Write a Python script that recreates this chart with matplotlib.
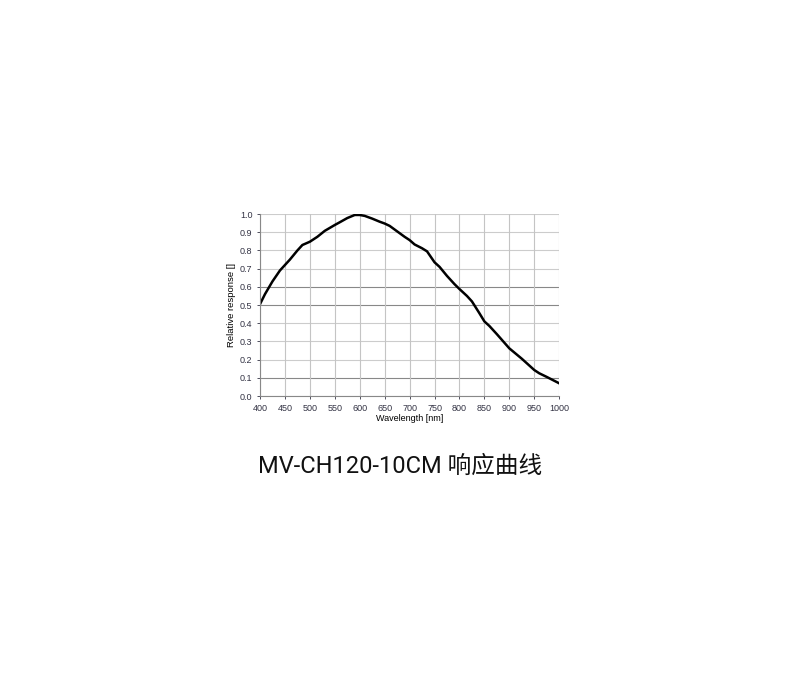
import matplotlib
matplotlib.use('Agg')
import matplotlib.pyplot as plt

# Кривая отклика
wavelength = [400, 410, 425, 440, 450, 460, 475, 485, 500, 515, 530, 550, 560, 575, 590, 600,
              610, 625, 640, 650, 660, 675, 690, 700, 710, 725, 735, 750, 760, 775, 790, 800,
              815, 825, 840, 850, 860, 875, 900, 925, 950, 960, 975, 1000]
response = [0.505, 0.56, 0.63, 0.69, 0.72, 0.75, 0.80, 0.83, 0.848, 0.875, 0.908, 0.94, 0.955, 0.978, 0.995, 0.995,
            0.99, 0.975, 0.958, 0.948, 0.935, 0.905, 0.875, 0.857, 0.833, 0.812, 0.795, 0.735, 0.71, 0.66, 0.615, 0.588,
            0.55, 0.52, 0.455, 0.41, 0.385, 0.34, 0.262, 0.205, 0.143, 0.125, 0.105, 0.07]

x_ticks = list(range(400, 1001, 50))
y_ticks = [i / 10 for i in range(11)]
dark_rows = [0.1, 0.5, 0.6]

plt.rcParams['font.family'] = ['Liberation Sans', 'DejaVu Sans']

fig = plt.figure(figsize=(8, 6.8), dpi=100)
ax = fig.add_axes([0.325, 0.4176, 0.374, 0.2676])

for y in y_ticks:
    c = '#888888' if y in dark_rows else '#cccccc'
    ax.axhline(y, color=c, lw=0.8, zorder=0)
for x in x_ticks:
    ax.axvline(x, color='#c4c4c4', lw=0.8, zorder=0)

ax.plot(wavelength, response, color='black', lw=1.8)

ax.set_xlim(400, 1000)
ax.set_ylim(0, 1.0)
ax.set_xticks(x_ticks)
ax.set_yticks(y_ticks)
ax.set_yticklabels(['%.1f' % v for v in y_ticks])
ax.tick_params(labelsize=6.5, colors='#333344', length=2, width=0.6)
for s in ['top', 'right']:
    ax.spines[s].set_visible(False)
for s in ['left', 'bottom']:
    ax.spines[s].set_color('#888888')
    ax.spines[s].set_linewidth(0.8)

ax.set_xlabel('Wavelength [nm]', fontsize=6.5, labelpad=1)
ax.set_ylabel('Relative response []', fontsize=6.8, labelpad=3)

fig.text(0.5, 0.314, 'MV-CH120-10CM 响应曲线', ha='center', va='center', fontsize=17,
         family=['Roboto', 'Noto Sans CJK SC'], color='#111111')

plt.savefig('out.png')
